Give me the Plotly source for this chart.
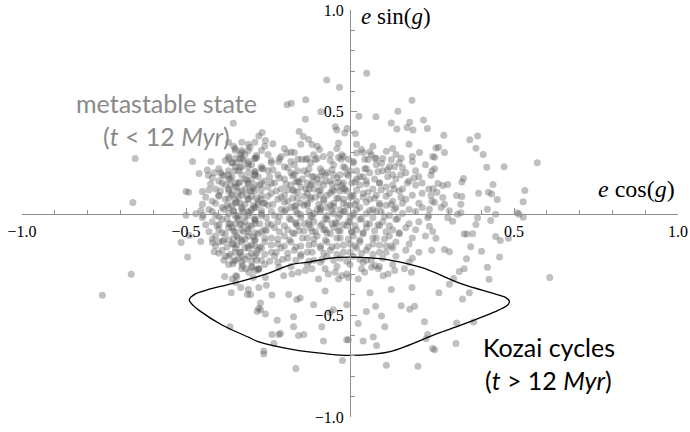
import plotly.graph_objects as go

# ---- scatter points (e cos g, e sin g) ----
sparse_x = [0.051,-0.071,-0.032,-0.135,-0.192,-0.179,0.189,0.146,-0.089,0.027,0.079,-0.136,0.126,0.182,0.224,0.143,0.174,0.192,0.236,-0.045,-0.04,-0.009,-0.016,0.016,-0.155,-0.142,-0.126,-0.116,-0.268,-0.278,-0.258,-0.235,-0.035,-0.093,-0.111,-0.081,-0.106,-0.192,-0.18,-0.217,-0.159,-0.147,-0.025,-0.027,-0.005,0.02,0.035,0.06,0.065,0.045,0.076,0.096,0.111,0.126,0.156,0.136,0.212,0.19,0.262,0.252,
            0.286,0.365,0.389,0.27,0.288,0.258,0.384,0.406,0.571,0.417,0.47,0.258,-0.356,-0.655,-0.48,-0.424,
            0.346,0.341,0.436,0.422,0.432,0.449,0.533,0.528,0.392,0.325,0.341,0.338,0.247,0.268,0.283,0.298,0.253,0.265,0.247,0.283,0.258,0.288,0.278,0.242,0.303,
            0.419,0.444,0.51,0.515,0.528,0.298,0.313,0.328,0.338,0.389,0.384,0.429,0.237,0.242,0.252,0.262,0.348,0.356,0.374,0.444,0.458,0.483,0.368,0.401,0.288,0.303,0.249,0.355,0.456,0.348,0.419,0.333,
            0.316,0.424,0.303,0.609,0.271,0.364,0.343,0.325,0.377,0.237,0.252,0.323,
            -0.217,-0.202,-0.177,-0.157,-0.136,-0.116,-0.096,-0.076,-0.066,-0.045,-0.035,-0.025,-0.01,-0.005,0.025,0.035,0.045,0.066,0.076,0.086,0.101,0.116,0.136,0.166,0.187,-0.278,-0.258,
            -0.238,-0.187,-0.162,-0.152,-0.076,0.061,0.126,0.189,
            -0.111,-0.01,-0.051,-0.061,0.05,0.078,0.096,0.156,0.182,0.197,0.227,-0.273,-0.222,-0.172,0.025,
            -0.172,-0.141,-0.157,-0.217,-0.238,-0.212,-0.086,-0.081,-0.01,-0.005,0.04,0.071,0.106,0.081,0.232,
            -0.263,-0.232,-0.023,-0.165,0.111,0.207,0.258,
            -0.667,-0.755,-0.382,-0.357,-0.359,-0.348,-0.333,-0.362,-0.313,-0.303,-0.31,-0.278,-0.255,-0.273,-0.283,-0.278,-0.258,-0.366,-0.263,
            -0.328,-0.318,-0.298,-0.288,-0.308,-0.278,-0.348,
            -0.46,-0.435,-0.432,-0.414,-0.394,-0.5,-0.492,-0.45,-0.662,-0.47,-0.448,-0.5,-0.515,-0.49,-0.455,-0.419,-0.495,-0.414,-0.399,-0.389,
            -0.33,-0.32,-0.335,-0.345,-0.325]
sparse_y = [0.689,0.656,0.62,0.559,0.535,0.542,0.557,0.503,0.50,0.478,0.476,0.463,0.445,0.448,0.46,0.415,0.423,0.41,0.418,0.426,0.41,0.418,0.395,0.393,0.403,0.378,0.364,0.339,0.398,0.381,0.359,0.343,0.346,0.314,0.289,0.28,0.264,0.297,0.302,0.255,0.267,0.267,0.289,0.267,0.267,0.297,0.314,0.302,0.289,0.267,0.272,0.247,0.306,0.264,0.272,0.23,0.30,0.255,0.322,0.28,
            0.384,0.363,0.381,0.326,0.30,0.277,0.321,0.29,0.25,0.227,0.23,0.22,0.443,0.27,0.255,0.255,
            0.172,0.155,0.142,0.105,0.096,0.069,0.113,0.058,0.10,0.088,0.083,0.046,0.188,0.147,0.138,0.143,0.122,0.105,0.088,0.079,0.054,0.046,0.029,0.021,0.013,
            0.021,-0.004,0.004,-0.004,-0.018,-0.021,-0.038,-0.004,0.004,-0.021,-0.054,-0.034,-0.021,-0.063,-0.088,-0.122,-0.101,-0.101,-0.10,-0.113,-0.133,-0.122,-0.163,-0.185,-0.177,-0.188,-0.18,-0.222,-0.214,-0.272,-0.264,-0.285,
            -0.319,-0.323,-0.348,-0.314,-0.389,-0.389,-0.42,-0.538,-0.533,-0.594,-0.664,-0.639,
            -0.264,-0.306,-0.297,-0.289,-0.28,-0.272,-0.322,-0.272,-0.297,-0.289,-0.322,-0.306,-0.297,-0.314,-0.322,-0.272,-0.289,-0.264,-0.256,-0.272,-0.306,-0.297,-0.28,-0.272,-0.289,-0.272,-0.314,
            -0.401,-0.398,-0.423,-0.415,-0.381,-0.389,-0.373,-0.364,
            -0.448,-0.448,-0.473,-0.486,-0.481,-0.456,-0.504,-0.453,-0.47,-0.456,-0.532,-0.473,-0.524,-0.507,-0.54,
            -0.557,-0.594,-0.599,-0.594,-0.594,-0.59,-0.557,-0.627,-0.621,-0.621,-0.627,-0.607,-0.557,-0.649,-0.616,
            -0.676,-0.639,-0.722,-0.762,-0.746,-0.751,-0.669,
            -0.299,-0.402,-0.309,-0.247,-0.322,-0.339,-0.364,-0.389,-0.398,-0.398,-0.373,-0.364,-0.353,-0.44,-0.481,-0.465,-0.494,-0.557,-0.69,
            -0.255,-0.272,-0.264,-0.28,-0.289,-0.272,-0.306,
            0.197,0.214,0.188,0.2,0.2,0.108,0.105,0.108,0.054,-0.001,-0.008,-0.009,-0.143,-0.108,-0.138,-0.143,-0.214,-0.188,-0.054,-0.138,
            0.31,0.29,0.27,0.25,0.26]

dense_x = [-0.36,-0.33,-0.30,-0.27,-0.24,-0.20,-0.17,-0.12,-0.09,-0.05,-0.02,0.01,0.05,0.08,0.12,0.15,0.20,0.23,
           -0.39,-0.35,-0.31,-0.28,-0.25,-0.22,-0.18,-0.14,-0.11,-0.07,-0.03,0.00,0.03,0.06,0.10,0.13,0.17,0.21,0.25,
           -0.40,-0.37,-0.34,-0.30,-0.26,-0.23,-0.20,-0.16,-0.13,-0.10,-0.06,-0.02,0.02,0.05,0.09,0.14,0.18,0.22,
           -0.41,-0.38,-0.35,-0.32,-0.29,-0.25,-0.21,-0.18,-0.15,-0.11,-0.08,-0.04,-0.01,0.03,0.07,0.11,0.16,0.20,0.24,
           -0.40,-0.36,-0.33,-0.30,-0.27,-0.24,-0.20,-0.17,-0.13,-0.09,-0.06,-0.03,0.01,0.04,0.08,0.12,0.15,0.19,0.22,
           -0.42,-0.38,-0.35,-0.31,-0.28,-0.26,-0.22,-0.19,-0.15,-0.12,-0.08,-0.05,-0.02,0.02,0.06,0.09,0.13,0.17,0.21,0.25,
           -0.43,-0.39,-0.36,-0.33,-0.29,-0.25,-0.21,-0.18,-0.14,-0.10,-0.07,-0.03,0.00,0.03,0.07,0.11,0.14,0.18,0.22,
           -0.41,-0.37,-0.34,-0.31,-0.27,-0.23,-0.20,-0.16,-0.12,-0.09,-0.05,-0.02,0.01,0.05,0.08,0.12,0.16,0.20,0.24,
           -0.42,-0.39,-0.35,-0.32,-0.29,-0.25,-0.22,-0.18,-0.14,-0.11,-0.07,-0.04,0.00,0.03,0.06,0.10,0.14,0.18,0.21,
           -0.40,-0.37,-0.33,-0.30,-0.26,-0.23,-0.19,-0.16,-0.12,-0.08,-0.05,-0.01,0.02,0.05,0.09,0.13,0.17,0.20,
           -0.41,-0.38,-0.34,-0.31,-0.28,-0.24,-0.20,-0.17,-0.13,-0.10,-0.06,-0.03,0.01,0.04,0.08,0.12,0.15,0.19,0.23,
           -0.40,-0.36,-0.33,-0.29,-0.26,-0.22,-0.18,-0.15,-0.11,-0.07,-0.04,0.00,0.03,0.07,0.11,0.14,0.18,
           -0.39,-0.35,-0.32,-0.28,-0.24,-0.21,-0.17,-0.13,-0.09,-0.06,-0.02,0.02,0.05,0.09,0.13,0.17,0.21,
           -0.38,-0.34,-0.31,-0.27,-0.23,-0.19,-0.15,-0.11,-0.07,-0.03,0.01,0.05,0.10,0.14,0.19,
           -0.37,-0.33,-0.30,-0.26,-0.22,-0.18,-0.13,-0.09,-0.04,0.00,0.04,0.09,0.13,0.18,
           -0.37,-0.33,-0.29,-0.25,-0.21,-0.17,-0.13,-0.06,-0.02,0.04,0.08,0.14,0.19,
           -0.35,-0.31,-0.26,-0.20,-0.15,-0.10,-0.04,0.02,0.07,0.13,0.18]
dense_y = [0.25,0.23,0.24,0.22,0.25,0.23,0.24,0.25,0.22,0.24,0.23,0.25,0.22,0.24,0.23,0.25,0.21,0.24,
           0.19,0.21,0.20,0.18,0.21,0.19,0.20,0.21,0.18,0.20,0.19,0.21,0.18,0.20,0.21,0.19,0.20,0.18,0.21,
           0.16,0.17,0.15,0.17,0.16,0.15,0.17,0.16,0.15,0.17,0.16,0.15,0.17,0.16,0.15,0.17,0.16,0.15,
           0.12,0.14,0.13,0.12,0.14,0.13,0.12,0.14,0.13,0.12,0.14,0.13,0.11,0.14,0.12,0.13,0.12,0.14,0.12,
           0.09,0.10,0.09,0.11,0.09,0.10,0.09,0.11,0.10,0.09,0.10,0.11,0.09,0.10,0.09,0.10,0.11,0.09,0.10,
           0.06,0.07,0.05,0.07,0.06,0.05,0.07,0.06,0.05,0.07,0.06,0.05,0.07,0.06,0.07,0.05,0.06,0.07,0.05,0.06,
           0.02,0.03,0.04,0.02,0.03,0.04,0.02,0.03,0.04,0.02,0.03,0.02,0.04,0.03,0.02,0.04,0.03,0.02,0.03,
           -0.01,0.00,-0.01,0.01,0.00,-0.01,0.01,0.00,-0.01,0.01,0.00,0.01,-0.01,0.00,0.01,-0.01,0.00,0.01,-0.01,
           -0.04,-0.03,-0.05,-0.04,-0.03,-0.05,-0.04,-0.03,-0.05,-0.04,-0.03,-0.05,-0.04,-0.03,-0.05,-0.04,-0.03,-0.05,-0.04,
           -0.08,-0.07,-0.08,-0.06,-0.08,-0.07,-0.08,-0.06,-0.07,-0.08,-0.07,-0.06,-0.08,-0.07,-0.06,-0.08,-0.07,-0.08,
           -0.11,-0.10,-0.12,-0.11,-0.10,-0.12,-0.11,-0.10,-0.12,-0.11,-0.10,-0.12,-0.11,-0.10,-0.12,-0.11,-0.10,-0.12,-0.11,
           -0.14,-0.15,-0.14,-0.16,-0.14,-0.15,-0.14,-0.16,-0.15,-0.14,-0.16,-0.15,-0.14,-0.15,-0.16,-0.14,-0.15,
           -0.18,-0.19,-0.17,-0.18,-0.19,-0.17,-0.18,-0.19,-0.17,-0.18,-0.19,-0.17,-0.18,-0.19,-0.17,-0.18,-0.19,
           -0.21,-0.22,-0.21,-0.23,-0.21,-0.22,-0.21,-0.23,-0.21,-0.22,-0.21,-0.23,-0.22,-0.21,-0.22,
           -0.25,-0.24,-0.26,-0.25,-0.24,-0.26,-0.25,-0.24,-0.26,-0.25,-0.24,-0.26,-0.25,-0.24,
           0.28,0.30,0.27,0.29,0.28,0.30,0.27,0.29,0.28,0.30,0.27,0.29,0.28,
           0.32,0.34,0.33,0.32,0.34,0.33,0.32,0.34,0.33,0.32,0.34]

core_x = [-0.38,-0.35,-0.31,-0.285,-0.24,-0.215,-0.18,-0.135,-0.10,-0.06,-0.035,0.01,0.055,0.10,
          -0.40,-0.37,-0.335,-0.29,-0.265,-0.235,-0.19,-0.16,-0.125,-0.085,-0.055,-0.015,0.02,0.045,0.085,0.115,0.16,
          -0.42,-0.385,-0.36,-0.32,-0.29,-0.245,-0.215,-0.175,-0.145,-0.115,-0.075,-0.04,-0.005,0.04,0.075,0.115,0.155,0.195,
          -0.425,-0.39,-0.365,-0.335,-0.31,-0.275,-0.24,-0.195,-0.165,-0.12,-0.095,-0.055,-0.025,0.015,0.05,0.09,0.13,0.175,
          -0.43,-0.395,-0.37,-0.34,-0.305,-0.27,-0.225,-0.19,-0.16,-0.125,-0.09,-0.05,-0.02,0.02,0.055,0.095,0.135,
          -0.44,-0.40,-0.37,-0.34,-0.315,-0.285,-0.25,-0.21,-0.175,-0.14,-0.105,-0.07,-0.035,0.005,0.04,0.075,0.11,0.155,
          -0.45,-0.41,-0.375,-0.345,-0.32,-0.295,-0.265,-0.235,-0.2,-0.165,-0.13,-0.095,-0.06,-0.02,0.015,0.05,0.09,0.125,0.16,
          -0.455,-0.42,-0.385,-0.355,-0.325,-0.3,-0.27,-0.24,-0.195,-0.165,-0.125,-0.09,-0.055,-0.015,0.02,0.06,0.095,0.135,
          -0.45,-0.40,-0.375,-0.345,-0.32,-0.29,-0.255,-0.215,-0.185,-0.15,-0.115,-0.075,-0.035,0.00,0.035,0.07,0.105,0.145,
          -0.44,-0.405,-0.365,-0.335,-0.31,-0.275,-0.24,-0.2,-0.165,-0.125,-0.09,-0.055,-0.02,0.015,0.05,0.085,0.12,
          -0.43,-0.39,-0.355,-0.325,-0.29,-0.255,-0.215,-0.175,-0.14,-0.105,-0.07,-0.03,0.005,0.04,0.075,0.11,0.15,
          -0.42,-0.385,-0.355,-0.32,-0.29,-0.26,-0.22,-0.185,-0.145,-0.11,-0.075,-0.04,-0.005,0.03,0.07,0.105,
          -0.41,-0.375,-0.345,-0.31,-0.275,-0.24,-0.2,-0.165,-0.125,-0.09,-0.055,-0.02,0.015,0.055,0.09,0.125,
          -0.40,-0.365,-0.335,-0.3,-0.26,-0.225,-0.19,-0.15,-0.115,-0.08,-0.04,0.00,0.035,0.07,0.11,
          -0.385,-0.355,-0.32,-0.285,-0.245,-0.205,-0.165,-0.125,-0.085,-0.05,-0.01,0.03,0.065,
          -0.37,-0.33,-0.29,-0.35,-0.31,-0.27,-0.37,-0.33,-0.29,-0.35,-0.31,-0.27,-0.37,-0.33,-0.29,-0.35,-0.31,-0.27,
          -0.37,-0.33,-0.29,-0.35,-0.31,-0.27,-0.37,-0.33,-0.29,-0.35,-0.31,-0.27,-0.37,-0.33,-0.29,-0.35,-0.31,-0.27,
          -0.37,-0.33,-0.29,-0.35,-0.31,-0.27,-0.37,-0.33,-0.29]
core_y = [0.26,0.27,0.255,0.275,0.26,0.27,0.255,0.265,0.27,0.26,0.275,0.255,0.265,0.27,
          0.22,0.21,0.225,0.205,0.22,0.215,0.225,0.21,0.22,0.205,0.215,0.225,0.21,0.22,0.205,0.215,0.225,
          0.175,0.185,0.18,0.17,0.19,0.18,0.175,0.185,0.17,0.18,0.19,0.175,0.185,0.18,0.17,0.18,0.19,0.175,
          0.145,0.15,0.14,0.155,0.145,0.14,0.15,0.145,0.155,0.14,0.15,0.145,0.14,0.155,0.145,0.15,0.14,0.15,
          0.115,0.11,0.12,0.105,0.115,0.12,0.11,0.115,0.105,0.12,0.115,0.11,0.12,0.115,0.105,0.115,0.12,
          0.08,0.085,0.075,0.08,0.09,0.075,0.085,0.08,0.075,0.085,0.08,0.09,0.075,0.085,0.08,0.075,0.085,0.08,
          0.045,0.05,0.04,0.055,0.045,0.04,0.05,0.045,0.055,0.04,0.05,0.045,0.04,0.05,0.045,0.055,0.04,0.045,0.05,
          0.015,0.01,0.02,0.015,0.01,0.02,0.015,0.01,0.02,0.015,0.01,0.02,0.015,0.01,0.02,0.015,0.01,0.02,
          -0.02,-0.015,-0.025,-0.02,-0.015,-0.025,-0.02,-0.015,-0.025,-0.02,-0.015,-0.025,-0.02,-0.015,-0.025,-0.02,-0.015,-0.025,
          -0.055,-0.06,-0.05,-0.055,-0.06,-0.05,-0.055,-0.06,-0.05,-0.055,-0.06,-0.05,-0.055,-0.06,-0.05,-0.055,-0.06,
          -0.09,-0.095,-0.085,-0.09,-0.095,-0.085,-0.09,-0.095,-0.085,-0.09,-0.095,-0.085,-0.09,-0.095,-0.085,-0.09,-0.095,
          -0.125,-0.13,-0.12,-0.125,-0.13,-0.12,-0.125,-0.13,-0.12,-0.125,-0.13,-0.12,-0.125,-0.13,-0.12,-0.125,
          -0.16,-0.165,-0.155,-0.16,-0.165,-0.155,-0.16,-0.165,-0.155,-0.16,-0.165,-0.155,-0.16,-0.165,-0.155,-0.16,
          -0.195,-0.2,-0.19,-0.195,-0.2,-0.19,-0.195,-0.2,-0.19,-0.195,-0.2,-0.19,-0.195,-0.2,-0.19,
          -0.23,-0.235,-0.225,-0.23,-0.235,-0.225,-0.23,-0.235,-0.225,-0.23,-0.235,-0.225,-0.23,
          0.35,0.35,0.35,0.31,0.31,0.31,0.27,0.27,0.27,0.23,0.23,0.23,0.19,0.19,0.19,0.15,0.15,0.15,
          0.11,0.11,0.11,0.07,0.07,0.07,0.03,0.03,0.03,-0.01,-0.01,-0.01,-0.05,-0.05,-0.05,-0.09,-0.09,-0.09,
          -0.13,-0.13,-0.13,-0.17,-0.17,-0.17,-0.21,-0.21,-0.21]

# darkest patches: left column and centre-left lump
dark_x = [-0.355,-0.305,-0.335,-0.285,-0.36,-0.31,-0.34,-0.29,-0.365,-0.315,-0.345,-0.295,-0.36,-0.3,-0.335,-0.28,-0.355,-0.305,
          -0.34,-0.29,-0.36,-0.31,-0.345,-0.295,-0.355,-0.3,-0.335,-0.285,-0.35,-0.3,-0.33,-0.28,-0.345,-0.295,
          -0.17,-0.13,-0.09,-0.05,-0.01,-0.155,-0.115,-0.075,-0.035,0.005,-0.175,-0.135,-0.095,-0.055,-0.015,
          -0.16,-0.12,-0.08,-0.04,0.0,-0.17,-0.13,-0.09,-0.05,-0.01,-0.15,-0.11,-0.07,-0.03,0.01,
          -0.165,-0.125,-0.085,-0.045,-0.005,-0.155,-0.115,-0.075,-0.035,0.005]
dark_y = [0.33,0.325,0.29,0.285,0.25,0.245,0.21,0.205,0.17,0.165,0.13,0.125,0.09,0.085,0.05,0.045,0.01,0.005,
          -0.03,-0.035,-0.07,-0.075,-0.11,-0.115,-0.15,-0.155,-0.19,-0.195,-0.23,-0.235,-0.27,-0.275,-0.31,-0.315,
          0.19,0.195,0.185,0.19,0.195,0.155,0.15,0.16,0.155,0.15,0.115,0.12,0.11,0.115,0.12,
          0.075,0.08,0.07,0.075,0.08,0.035,0.04,0.03,0.035,0.04,-0.005,0.0,-0.01,-0.005,0.0,
          -0.045,-0.04,-0.05,-0.045,-0.04,-0.085,-0.09,-0.08,-0.085,-0.09]

# ---- Kozai cycle orbit (closed curve) ----
kozai_x = [-0.490,-0.470,-0.429,-0.359,-0.308,-0.248,-0.177,-0.126,-0.066,0.000,0.062,0.126,0.227,0.338,0.439,0.474,0.486,
           0.480,0.439,0.338,0.268,0.126,0.000,-0.076,-0.177,-0.278,-0.308,-0.389,-0.460,-0.484,-0.490]
kozai_y = [-0.423,-0.394,-0.372,-0.345,-0.323,-0.293,-0.250,-0.239,-0.220,-0.214,-0.218,-0.230,-0.270,-0.345,-0.394,-0.412,-0.432,
           -0.451,-0.485,-0.549,-0.589,-0.677,-0.697,-0.689,-0.668,-0.631,-0.609,-0.549,-0.476,-0.442,-0.423]

x_major = [-1.0, -0.5, 0.5, 1.0]
x_major_text = ["\u22121.0", "\u22120.5", "0.5", "1.0"]
y_major = [-1.0, -0.5, 0.5, 1.0]
y_major_text = ["\u22121.0", "\u22120.5", "0.5", "1.0"]
minor_vals = [-0.9,-0.8,-0.7,-0.6,-0.4,-0.3,-0.2,-0.1,0.1,0.2,0.3,0.4,0.6,0.7,0.8,0.9]

fig = go.Figure()
fig.add_trace(go.Scatter(x=sparse_x + dense_x + core_x + dark_x, y=sparse_y + dense_y + core_y + dark_y,
                         mode="markers",
                         marker=dict(size=7, color="rgba(90,90,90,0.38)", line=dict(width=0)),
                         hoverinfo="skip", showlegend=False))
fig.add_trace(go.Scatter(x=kozai_x, y=kozai_y, mode="lines",
                         line=dict(color="black", width=1.3, shape="spline", smoothing=0.8),
                         hoverinfo="skip", showlegend=False))

axcol = "#8f8f8f"
tickfont = dict(family="Liberation Serif", size=16, color="black")
fig.update_layout(
    width=690, height=432,
    margin=dict(l=22, r=12, t=10, b=15, autoexpand=False),
    paper_bgcolor="white", plot_bgcolor="white",
    xaxis=dict(range=[-1, 1], anchor="free", position=0.5, showgrid=False, zeroline=False,
               automargin=False, ticklabeloverflow="allow",
               showline=True, linecolor=axcol, linewidth=1,
               tickmode="array", tickvals=x_major, ticktext=x_major_text,
               ticks="inside", ticklen=6, tickcolor=axcol, tickwidth=1,
               ticklabelstandoff=3, tickfont=tickfont,
               minor=dict(tickvals=minor_vals, ticks="inside", ticklen=4, tickcolor=axcol, tickwidth=1)),
    yaxis=dict(range=[-1, 1], anchor="free", position=0.5, showgrid=False, zeroline=False,
               automargin=False, ticklabeloverflow="allow",
               showline=True, linecolor=axcol, linewidth=1,
               tickmode="array", tickvals=y_major, ticktext=y_major_text,
               ticks="inside", ticklen=6, tickcolor=axcol, tickwidth=1,
               ticklabelstandoff=3, tickfont=tickfont,
               minor=dict(tickvals=minor_vals, ticks="inside", ticklen=4, tickcolor=axcol, tickwidth=1)),
)

serif = "Liberation Serif"
sans = "Lato"
ann = [
    dict(x=0.998, y=0.56, xanchor="right", yanchor="middle",
         text="<i>e</i> cos(<i>g</i>)", font=dict(family=serif, size=24, color="black")),
    dict(x=0.513, y=0.983, xanchor="left", yanchor="middle",
         text="<i>e</i> sin(<i>g</i>)", font=dict(family=serif, size=23, color="black")),
    dict(x=0.221, y=0.771, xanchor="center", yanchor="middle",
         text="metastable state", font=dict(family=sans, size=25, color="#8a8a8a")),
    dict(x=0.221, y=0.690, xanchor="center", yanchor="middle",
         text="(<i>t</i> &lt; 12 <i>Myr</i>)", font=dict(family=sans, size=25, color="#8a8a8a")),
    dict(x=0.803, y=0.172, xanchor="center", yanchor="middle",
         text="Kozai cycles", font=dict(family=sans, size=25, color="black")),
    dict(x=0.803, y=0.09, xanchor="center", yanchor="middle",
         text="(<i>t</i> &gt; 12 <i>Myr</i>)", font=dict(family=sans, size=25, color="black")),
]
for a in ann:
    a.update(xref="paper", yref="paper", showarrow=False)
fig.update_layout(annotations=ann)

fig.write_html("out.html", config={"displayModeBar": False},
               post_script="document.body.style.margin='0';")
